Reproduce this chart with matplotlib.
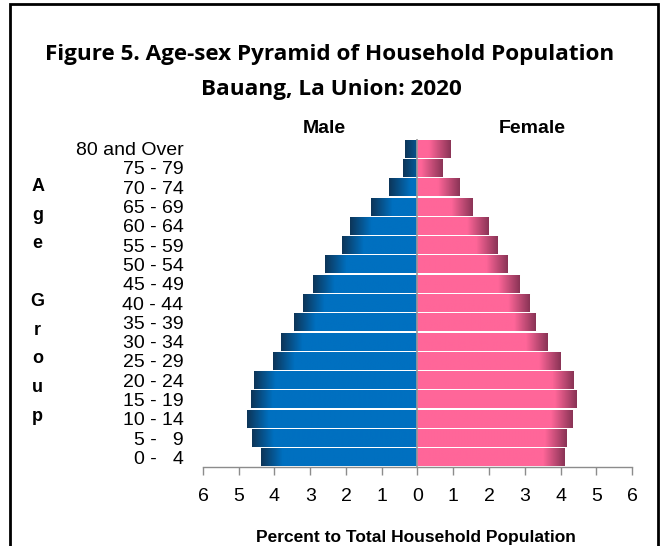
import numpy as np
import matplotlib
matplotlib.use('Agg')
import matplotlib.pyplot as plt
from matplotlib.colors import to_rgb
from matplotlib.patches import Rectangle

# Datos (porcentaje del total de la poblacion)
grupos = ['0 -   4', '5 -   9', '10 - 14', '15 - 19', '20 - 24', '25 - 29',
          '30 - 34', '35 - 39', '40 - 44', '45 - 49', '50 - 54', '55 - 59',
          '60 - 64', '65 - 69', '70 - 74', '75 - 79', '80 and Over']
hombres = [4.38, 4.63, 4.78, 4.66, 4.57, 4.05, 3.83, 3.44, 3.21, 2.93,
           2.58, 2.10, 1.89, 1.30, 0.79, 0.40, 0.34]
mujeres = [4.12, 4.17, 4.34, 4.45, 4.38, 4.00, 3.64, 3.32, 3.15, 2.87,
           2.53, 2.24, 2.01, 1.55, 1.18, 0.71, 0.93]
ticks_x = [-6, -5, -4, -3, -2, -1, 0, 1, 2, 3, 4, 5, 6]

AZUL, AZUL_OSC = '#0070C0', '#0d3558'
ROSA, ROSA_OSC = '#FF6699', '#8a3456'

plt.rcParams['font.family'] = ['Liberation Sans', 'DejaVu Sans']


def degradado(ax, barra, base, oscuro, hacia_izq):
    """Sombrea el extremo exterior de la barra"""
    x, y = barra.get_x(), barra.get_y()
    w, h = barra.get_width(), barra.get_height()
    x0, x1 = min(x, x + w), max(x, x + w)
    xs = np.linspace(x0, x1, 200)
    d = (xs - x0) if hacia_izq else (x1 - xs)
    t = np.clip(d / 0.6, 0, 1)[:, None]
    c = np.array(to_rgb(oscuro)) * (1 - t) + np.array(to_rgb(base)) * t
    img = ax.imshow(c[None, :, :], extent=[x0, x1, y, y + h], aspect='auto',
                    interpolation='bilinear', zorder=2)
    img.set_clip_path(barra)


fig = plt.figure(figsize=(6.62, 5.46), dpi=100)
ax = fig.add_axes([0.3066, 0.1447, 0.6481, 0.6007])

pos = np.arange(len(grupos))
b_h = ax.barh(pos, -np.array(hombres), height=0.93, color=AZUL,
              edgecolor='white', linewidth=0.8, zorder=1)
b_m = ax.barh(pos, mujeres, height=0.93, color=ROSA,
              edgecolor='white', linewidth=0.8, zorder=1)
for b in b_h:
    degradado(ax, b, AZUL, AZUL_OSC, True)
for b in b_m:
    degradado(ax, b, ROSA, ROSA_OSC, False)

ax.axvline(0, color='#9a9a9a', linewidth=1.2, zorder=3)
ax.set_xlim(-6, 6)
ax.set_ylim(-0.5, len(grupos) - 0.5)
ax.set_xticks(ticks_x)
ax.set_xticklabels([str(abs(v)) for v in ticks_x], fontsize=14)
ax.set_yticks(pos)
ax.set_yticklabels(grupos, fontsize=14, linespacing=0.9)
ax.tick_params(axis='y', length=0, pad=14)
ax.tick_params(axis='x', length=6, color='#8c8c8c', width=1, pad=9)
for lado in ['top', 'right', 'left']:
    ax.spines[lado].set_visible(False)
ax.spines['bottom'].set_color('#8c8c8c')
ax.spines['bottom'].set_linewidth(1)

fig.text(0.498, 0.901, 'Figure 5. Age-sex Pyramid of Household Population',
         ha='center', va='center', fontsize=16.2, fontweight='bold',
         family='Open Sans')
fig.text(0.5, 0.836, 'Bauang, La Union: 2020', ha='center', va='center',
         fontsize=16.2, fontweight='bold', family='Open Sans')
fig.text(0.49, 0.765, 'Male', ha='center', va='center', fontsize=14,
         fontweight='bold')
fig.text(0.804, 0.765, 'Female', ha='center', va='center', fontsize=14,
         fontweight='bold')
fig.text(0.057, 0.448, '\n'.join('Age Group'), ha='center', va='center',
         fontsize=13, fontweight='bold', linespacing=1.9)
fig.text(0.628, 0.016, 'Percent to Total Household Population', ha='center',
         va='center', fontsize=12.5, fontweight='bold')

fig.patches.append(Rectangle((0.015, -0.05), 0.979, 1.043,
                             transform=fig.transFigure, fill=False,
                             edgecolor='black', linewidth=2))

plt.savefig('out.png', dpi=100)
